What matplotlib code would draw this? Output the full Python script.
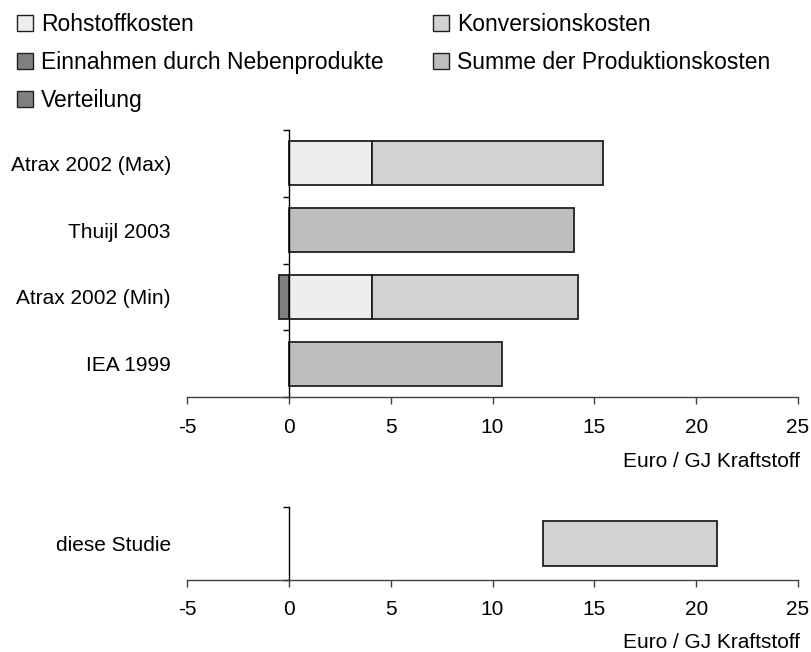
import matplotlib
matplotlib.use("Agg")
import matplotlib.pyplot as plt
from matplotlib.patches import Patch
from matplotlib.ticker import FixedLocator

plt.rcParams['font.family'] = ['Liberation Sans', 'DejaVu Sans']
plt.rcParams['font.size'] = 15

# Daten (Euro / GJ Kraftstoff)
studies = ["IEA 1999", "Atrax 2002 (Min)", "Thuijl 2003", "Atrax 2002 (Max)"]
rohstoff = [0, 4.1, 0, 4.1]
konversion = [0, 10.1, 0, 11.3]
nebenprodukte = [0, -0.5, 0, 0]
summe = [10.45, 0, 14.0, 0]

this_study = ["diese Studie"]
this_low = [12.5]
this_high = [21.0]

x_ticks = [-5, 0, 5, 10, 15, 20, 25]
x_label = "Euro / GJ Kraftstoff"

C_ROH = "#eeeeee"
C_KONV = "#d2d2d2"
C_NEBEN = "#808080"
C_SUMME = "#bebebe"
C_VERT = "#808080"
EDGE = "#202020"
AXC = "#404040"

fig = plt.figure(figsize=(8.11, 6.52), dpi=100)
ax1 = fig.add_axes([0.2306, 0.391, 0.7534, 0.4095])
ax2 = fig.add_axes([0.2306, 0.111, 0.7534, 0.1115])

bar_kw = dict(height=0.66, edgecolor=EDGE, linewidth=1.3)
y = list(range(len(studies)))
ax1.barh(y, rohstoff, color=C_ROH, **bar_kw)
ax1.barh(y, konversion, left=rohstoff, color=C_KONV, **bar_kw)
ax1.barh(y, nebenprodukte, color=C_NEBEN, **bar_kw)
ax1.barh(y, summe, color=C_SUMME, **bar_kw)
# hide empty zero-width bars
for p in ax1.patches:
    if p.get_width() == 0:
        p.set_visible(False)
ax1.set_ylim(-0.5, len(studies) - 0.5)

ax2.barh([0], [h - l for l, h in zip(this_low, this_high)], left=this_low,
         height=0.62, color=C_KONV, edgecolor=EDGE, linewidth=1.3)
ax2.set_ylim(-0.5, 0.5)

for ax, labels in [(ax1, studies), (ax2, this_study)]:
    ax.set_xlim(-5, 25)
    ax.set_xticks(x_ticks)
    ax.set_xticklabels([str(t) for t in x_ticks])
    ax.set_yticks(range(len(labels)))
    ax.set_yticklabels(labels)
    lo, hi = ax.get_ylim()
    ax.yaxis.set_minor_locator(FixedLocator([lo + k for k in range(int(hi - lo) + 1)]))
    for s in ["top", "right"]:
        ax.spines[s].set_visible(False)
    ax.spines["left"].set_position(("data", 0))
    ax.spines["left"].set_color("black")
    ax.spines["left"].set_linewidth(1.0)
    ax.spines["bottom"].set_color(AXC)
    ax.spines["bottom"].set_linewidth(1.0)
    ax.tick_params(axis="y", which="major", length=0, pad=85)
    ax.tick_params(axis="y", which="minor", length=4.5, width=1.0, color="black")
    ax.tick_params(axis="x", length=5, width=1.0, color=AXC, pad=10)
    for t in ax.get_yticklabels():
        t.set_horizontalalignment("right")

ax1.text(1.003, -0.243, x_label, transform=ax1.transAxes, ha="right", va="center")
ax2.text(1.003, -0.866, x_label, transform=ax2.transAxes, ha="right", va="center")

handles = [
    Patch(facecolor=C_ROH, edgecolor=EDGE, label="Rohstoffkosten"),
    Patch(facecolor=C_NEBEN, edgecolor=EDGE, label="Einnahmen durch Nebenprodukte"),
    Patch(facecolor=C_VERT, edgecolor=EDGE, label="Verteilung"),
    Patch(facecolor=C_KONV, edgecolor=EDGE, label="Konversionskosten"),
    Patch(facecolor=C_SUMME, edgecolor=EDGE, label="Summe der Produktionskosten"),
]
fig.legend(handles=handles, ncol=2, loc="upper left", bbox_to_anchor=(17 / 811, 1 - 13 / 652),
           frameon=False, fontsize=16.5, handlelength=0.7, handleheight=0.7,
           handletextpad=0.35, columnspacing=2.15, labelspacing=0.66,
           borderpad=0, borderaxespad=0)

fig.savefig("out.png", dpi=100)
